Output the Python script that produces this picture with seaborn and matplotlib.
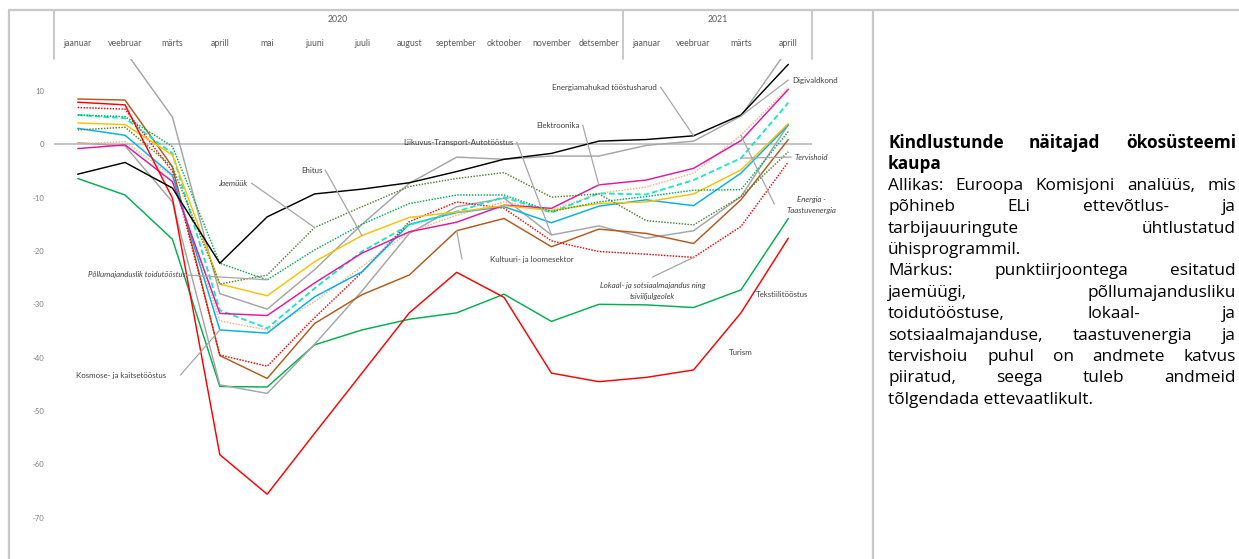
import matplotlib
matplotlib.use("Agg")
import matplotlib.pyplot as plt
import numpy as np
import pandas as pd
import seaborn as sns
from matplotlib.lines import Line2D

# ---------------- data ----------------
months = ["jaanuar", "veebruar", "märts", "aprill", "mai", "juuni", "juuli", "august",
          "september", "oktoober", "november", "detsember",
          "jaanuar", "veebruar", "märts", "aprill"]
years = ["2020", "2021"]
year_first = [0, 12]
year_last = [11, 15]
yticks = [10, 0, -10, -20, -30, -40, -50, -60, -70]

energiamahukad = [-5.6, -3.4, -8.2, -22.3, -13.6, -9.3, -8.4, -7.2, -5.1, -2.8, -1.7, 0.6, 0.9, 1.6, 5.5, 15.0]
digivaldkond = [19.0, 17.5, 5.1, -28.0, -30.9, -23.5, -15.0, -7.3, -2.4, -2.8, -2.2, -2.2, -0.2, 0.6, 5.3, 18.0]
liikuvus = [0.3, -0.3, -10.8, -45.1, -46.7, -37.5, -27.5, -16.7, -11.7, -10.1, -17.0, -15.3, -17.6, -16.2, -9.8, 3.7]
elektroonika = [-0.8, -0.1, -7.0, -31.7, -32.1, -26.0, -20.4, -16.4, -14.6, -11.4, -12.0, -7.6, -6.7, -4.5, 0.7, 10.3]
ehitus = [4.0, 3.7, -2.0, -26.2, -28.4, -22.0, -17.1, -13.7, -12.7, -11.5, -12.4, -11.1, -10.8, -9.3, -4.8, 3.9]
kosmose = [3.0, 1.7, -5.8, -34.8, -35.4, -28.6, -23.9, -15.0, -12.8, -11.7, -14.7, -11.6, -10.4, -11.5, -5.4, 3.6]
kultuur = [8.5, 8.3, -4.2, -39.6, -43.9, -33.6, -28.2, -24.5, -16.2, -13.9, -19.2, -15.9, -16.7, -18.6, -10.4, 0.9]
tekstiil = [-6.4, -9.5, -17.8, -45.4, -45.5, -37.6, -34.8, -32.8, -31.6, -28.1, -33.2, -30.0, -30.1, -30.6, -27.3, -13.9]
turism = [7.9, 7.4, -10.1, -58.2, -65.6, -54.2, -42.9, -31.6, -24.0, -28.7, -42.9, -44.5, -43.7, -42.3, -31.6, -17.6]
jaemyyk = [2.7, 3.2, -4.2, -26.2, -24.5, -15.6, -11.7, -7.9, -6.4, -5.3, -9.9, -9.3, -14.3, -15.1, -9.8, -1.4]
pollumajandus = [5.5, 5.2, -0.4, -22.3, -25.4, -19.8, -15.0, -11.1, -9.5, -9.5, -12.6, -10.8, -9.8, -8.6, -8.5, 2.4]
tervishoid = [5.5, 4.9, -1.7, -31.1, -34.5, -27.0, -20.1, -15.1, -12.6, -9.9, -12.8, -9.2, -9.4, -6.7, -2.6, 7.8]
lokaal = [6.9, 6.6, -5.1, -39.5, -41.6, -32.5, -24.0, -14.5, -10.8, -12.0, -18.1, -20.1, -20.6, -21.2, -15.4, -3.3]
taastuv = [0.1, 0.5, -6.0, -33.1, -34.8, -29.5, -22.9, -16.4, -13.3, -10.8, -12.4, -9.2, -8.0, -5.4, 1.7, 10.6]

series = {
    "Tekstiilitööstus": tekstiil,
    "Liikuvus": liikuvus,
    "Digivaldkond": digivaldkond,
    "Kultuur": kultuur,
    "Lokaal": lokaal,
    "Taastuv": taastuv,
    "Kosmose": kosmose,
    "Tervishoid": tervishoid,
    "Elektroonika": elektroonika,
    "Ehitus": ehitus,
    "Pollumajandus": pollumajandus,
    "Jaemyyk": jaemyyk,
    "Turism": turism,
    "Energiamahukad": energiamahukad,
}
colors = {
    "Energiamahukad": "#000000", "Digivaldkond": "#A5A5A5", "Liikuvus": "#A5A5A5",
    "Elektroonika": "#E2179B", "Ehitus": "#FFC000", "Kosmose": "#00B0F0",
    "Kultuur": "#B5581D", "Tekstiilitööstus": "#00B050", "Turism": "#FF0000",
    "Jaemyyk": "#548235", "Pollumajandus": "#00B050", "Tervishoid": "#1AE8C6",
    "Lokaal": "#FF0000", "Taastuv": "#F4B183",
}
styles = {
    "Jaemyyk": (0, (1, 1)), "Pollumajandus": (0, (1, 1)), "Lokaal": (0, (1, 1)),
    "Taastuv": (0, (1, 1)), "Tervishoid": (0, (3, 1.6)),
}

# ---------------- figure ----------------
sns.set_style("white")
plt.rcParams["font.family"] = ["Liberation Sans Narrow", "Lato", "DejaVu Sans"]

W, H = 1239, 559
fig = plt.figure(figsize=(W / 100, H / 100), dpi=100)
ax_l, ax_r, ax_t, ax_b = 54, 812, 59, 555
ax = fig.add_axes([ax_l / W, 1 - ax_b / H, (ax_r - ax_l) / W, (ax_b - ax_t) / H])

idx = np.arange(len(months))
for name, vals in series.items():
    d = pd.DataFrame({"x": idx, "y": vals})
    lw = 1.35 if name == "Tervishoid" else 1.05
    sns.lineplot(data=d, x="x", y="y", ax=ax, color=colors[name],
                 linestyle=styles.get(name, "-"), linewidth=lw,
                 estimator=None, errorbar=None, sort=False, legend=False)

ax.axhline(0, color="#BFBFBF", lw=1.3, zorder=0.5)
ax.set_xlim(-0.5, len(months) - 0.5)
ax.set_ylim(-77, 16)
ax.set_yticks(yticks)
ax.set_yticklabels([str(t) for t in yticks], fontsize=5.5, color="#7F7F7F")
ax.tick_params(axis="y", length=0, pad=7)
ax.set_xticks([])
ax.set_xlabel("")
ax.set_ylabel("")
for s in ax.spines.values():
    s.set_visible(False)

# header: months and years on top
xt = ax.get_xaxis_transform()
def yfrac(py):
    return (ax_b - py) / (ax_b - ax_t)
for i, m in enumerate(months):
    ax.text(i, yfrac(43), m, transform=xt, ha="center", va="center",
            fontsize=6.3, color="#595959", clip_on=False)
for y, a, b in zip(years, year_first, year_last):
    ax.text((a + b) / 2, yfrac(19), y, transform=xt, ha="center", va="center",
            fontsize=6.3, color="#595959", clip_on=False)
for xb in [-0.5, 11.5, len(months) - 0.5]:
    ax.add_line(Line2D([xb, xb], [1.0, yfrac(11)], transform=xt, color="#BFBFBF",
                       lw=1.2, clip_on=False))

# series labels with leader lines
def px2x(px):
    return (px - 77) / 47.47
def py2v(py):
    return (144.3 - py) / 5.335

labels = [
    # text, series, point index, text px, text py, ha, italic, leader start px
    ("Energiamahukad tööstusharud", "Energiamahukad", 13, 657, 87, "right", False, (661, 87)),
    ("Digivaldkond", "Digivaldkond", 14, 793, 80, "left", False, (789, 80)),
    ("Elektroonika", "Elektroonika", 11, 580, 125, "right", False, (583, 125)),
    ("Liikuvus-Transport-Autotööstus", "Liikuvus", 10, 514, 142, "right", False, (517, 142)),
    ("Ehitus", "Ehitus", 6, 322, 170, "right", False, (325, 170)),
    ("Jaemüük", "Jaemyyk", 5, 247, 183, "right", True, (251, 183)),
    ("Põllumajanduslik toidutööstus", "Pollumajandus", 4, 185, 275, "right", True, (186, 275)),
    ("Kosmose- ja kaitsetööstus", "Kosmose", 3, 166, 376, "right", False, (180, 375)),
    ("Kultuuri- ja loomesektor", "Kultuur", 8, 490, 260, "left", False, (462, 259)),
    ("Lokaal- ja sotsiaalmajandus ning\ntsiviiljulgeolek", "Lokaal", 13, 653, 291, "center", True, (653, 277)),
    ("Tervishoid", "Tervishoid", 14, 795, 157, "left", True, (792, 157)),
    ("Energia -\nTaastuvenergia", "Taastuv", 14, 812, 205, "center", True, (775, 204)),
    ("Tekstiilitööstus", None, None, 757, 295, "left", False, None),
    ("Turism", None, None, 729, 353, "left", False, None),
]
for text, sname, pi, tx, ty, ha, ital, lead in labels:
    ax.text(px2x(tx), py2v(ty), text, ha=ha, va="center", fontsize=5.7,
            color="#404040", style="italic" if ital else "normal",
            linespacing=1.6, clip_on=False)
    if lead is not None:
        ax.plot([px2x(lead[0]), pi], [py2v(lead[1]), series[sname][pi]],
                color="#A6A6A6", lw=0.9, zorder=5)

# ---------------- frame lines ----------------
def fline(x0, y0, x1, y1):
    fig.add_artist(Line2D([x0 / W, x1 / W], [1 - y0 / H, 1 - y1 / H],
                          transform=fig.transFigure, color="#C8C8C8", lw=1.6))
fline(9, 10, W, 10)
fline(9, 10, 9, H)
fline(873, 10, 873, H)

# ---------------- right justified text ----------------
para = [
    ("Kindlustunde näitajad ökosüsteemi", True, True),
    ("kaupa", True, False),
    ("Allikas: Euroopa Komisjoni analüüs, mis", False, True),
    ("põhineb ELi ettevõtlus- ja", False, True),
    ("tarbijauuringute ühtlustatud", False, True),
    ("ühisprogrammil.", False, False),
    ("Märkus: punktiirjoontega esitatud", False, True),
    ("jaemüügi, põllumajandusliku", False, True),
    ("toidutööstuse, lokaal- ja", False, True),
    ("sotsiaalmajanduse, taastuvenergia ja", False, True),
    ("tervishoiu puhul on andmete katvus", False, True),
    ("piiratud, seega tuleb andmeid", False, True),
    ("tõlgendada ettevaatlikult.", False, False),
]
renderer = fig.canvas.get_renderer()
x0p, x1p, y0p, dy = 888, 1236, 143, 21.4
fsize = 12.4
for k, (line, bold, just) in enumerate(para):
    yp = 1 - (y0p + k * dy) / H
    kw = dict(fontsize=fsize, family=["Open Sans", "DejaVu Sans"], color="#000000",
              fontweight="bold" if bold else "normal", va="center", ha="left")
    if not just:
        fig.text(x0p / W, yp, line, **kw)
        continue
    words = line.split()
    ts = [fig.text(0, yp, w, **kw) for w in words]
    ws = [t.get_window_extent(renderer).width for t in ts]
    gap = (x1p - x0p - sum(ws)) / (len(words) - 1)
    if gap < 3.0:
        scale = (x1p - x0p - 3.0 * (len(words) - 1)) / sum(ws)
        for t in ts:
            t.set_fontsize(fsize * scale)
        ws = [t.get_window_extent(renderer).width for t in ts]
        gap = (x1p - x0p - sum(ws)) / (len(words) - 1)
    xp = x0p
    for t, w in zip(ts, ws):
        t.set_x(xp / W)
        xp += w + gap

fig.savefig("out.png", dpi=100)
